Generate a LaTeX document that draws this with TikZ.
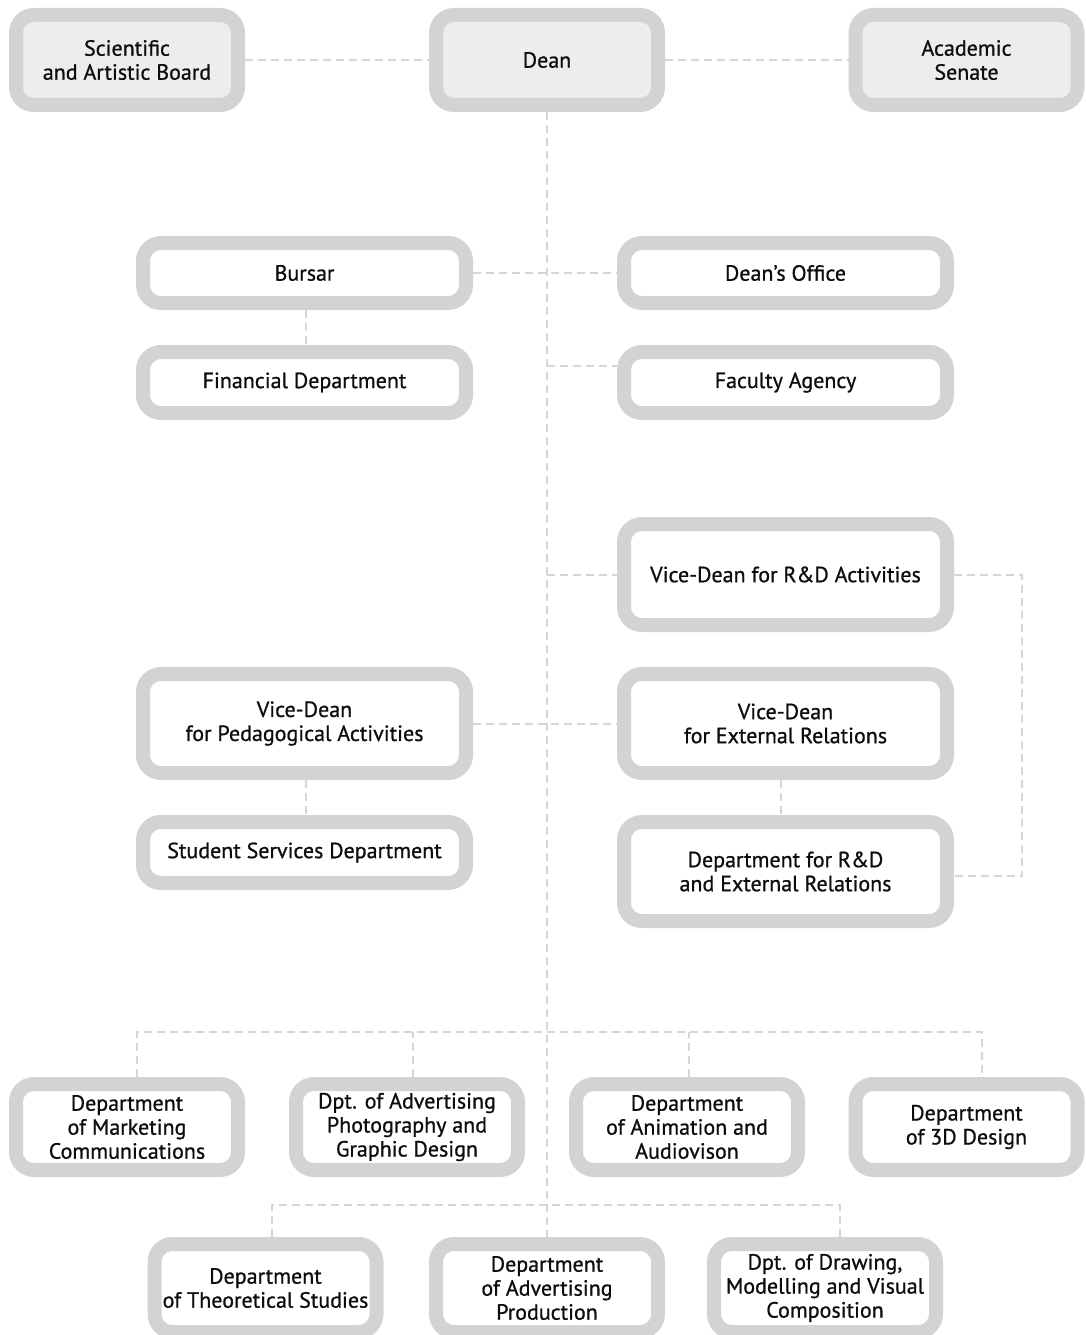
\documentclass[tikz,border=0pt]{standalone}
\usepackage{fontspec}
\setmainfont{PT Sans}
\newfontfamily\boxfont{PT Sans}[FakeBold=0.8]
\usetikzlibrary{calc}
\definecolor{bord}{HTML}{D3D3D3}
\definecolor{topfill}{HTML}{EDEDED}
\definecolor{connc}{HTML}{D6D6D6}
\begin{document}
\begin{tikzpicture}[x=1pt,y=-1pt,
  box/.style={rectangle, rounded corners=18pt, draw=bord, line width=14pt, fill=white,
    inner sep=0pt, align=center, font=\boxfont\fontsize{22}{24}\selectfont, text=black!95},
  topbox/.style={box, fill=topfill},
  wide/.style={minimum width=323pt},
  narrow/.style={minimum width=222pt},
  conn/.style={draw=connc, line width=2pt, dash pattern=on 8pt off 5pt}]
\useasboundingbox (0,0) rectangle (1085,1335);
\clip (0,0) rectangle (1085,1335);
% top row
\node[topbox, narrow, minimum height=90pt] (sci) at (127,60) {Scientific\\and Artistic Board};
\node[topbox, narrow, minimum height=90pt] (dean) at (547,60) {Dean};
\node[topbox, narrow, minimum height=90pt] (sen) at (966.5,60) {Academic\\Senate};
% upper blocks
\node[box, wide, minimum height=60pt] (bursar) at (304.5,273) {Bursar};
\node[box, wide, minimum height=61pt] (fin) at (304.5,382.5) {Financial Department};
\node[box, wide, minimum height=60pt] (doff) at (785.5,273) {Dean’s Office};
\node[box, wide, minimum height=61pt] (fac) at (785.5,382.5) {Faculty Agency};
% vice-deans
\node[box, wide, minimum height=101pt] (vdrd) at (785.5,574.5) {Vice-Dean for R\&D Activities};
\node[box, wide, minimum height=99pt] (vdped) at (304.5,723.5) {Vice-Dean\\for Pedagogical Activities};
\node[box, wide, minimum height=99pt] (vdext) at (785.5,723.5) {Vice-Dean\\for External Relations};
\node[box, wide, minimum height=61pt] (ssd) at (304.5,852.5) {Student Services Department};
\node[box, wide, minimum height=99pt] (drd) at (785.5,871.5) {Department for R\&D\\and External Relations};
% departments row 1
\node[box, narrow, minimum height=86pt] (m1) at (127,1127) {Department\\of Marketing\\Communications};
\node[box, narrow, minimum height=86pt] (m2) at (407,1127) {Dpt. of Advertising\\Photography and\\Graphic Design};
\node[box, narrow, minimum height=86pt] (m3) at (687,1127) {Department\\of Animation and\\Audiovison};
\node[box, narrow, minimum height=86pt] (m4) at (966.5,1127) {Department\\of 3D Design};
% departments row 2
\node[box, narrow, minimum height=88pt] (n1) at (265.5,1288) {Department\\of Theoretical Studies};
\node[box, narrow, minimum height=88pt] (n2) at (547,1288) {Department\\of Advertising\\Production};
\node[box, narrow, minimum height=88pt] (n3) at (825,1288) {Dpt. of Drawing,\\Modelling and Visual\\Composition};
% connectors
\draw[conn] (sci.east) -- (dean.west);
\draw[conn] (dean.east) -- (sen.west);
\draw[conn] (dean.south) -- (n2.north);
\draw[conn] (bursar.east) -- (doff.west);
\draw[conn] ($(bursar.south)+(1.5,0)$) -- ($(fin.north)+(1.5,0)$);
\coordinate (facin) at ($(fac.west)+(0,-17)$);
\draw[conn] (dean.south |- facin) -- (facin);
\draw[conn] (dean.south |- vdrd.west) -- (vdrd.west);
\draw[conn] (vdped.east) -- (vdext.west);
\draw[conn] ($(vdped.south)+(1.5,0)$) -- ($(ssd.north)+(1.5,0)$);
\draw[conn] ($(vdext.south)+(-5,0)$) -- ($(drd.north)+(-5,0)$);
\draw[conn] (vdrd.east) -- ++(68,0) |- ($(drd.east)+(0,4.5)$);
% bus 1
\draw[conn] ($(m1.north)+(10,0)$) -- ++(0,-45) -| ($(m4.north)+(15.5,0)$);
\draw[conn] ($(m2.north)+(6,0)$) -- ++(0,-45);
\draw[conn] ($(m3.north)+(2,0)$) -- ++(0,-45);
% bus 2
\draw[conn] ($(n1.north)+(6.5,0)$) -- ++(0,-32) -| ($(n3.north)+(15,0)$);
\end{tikzpicture}
\end{document}
